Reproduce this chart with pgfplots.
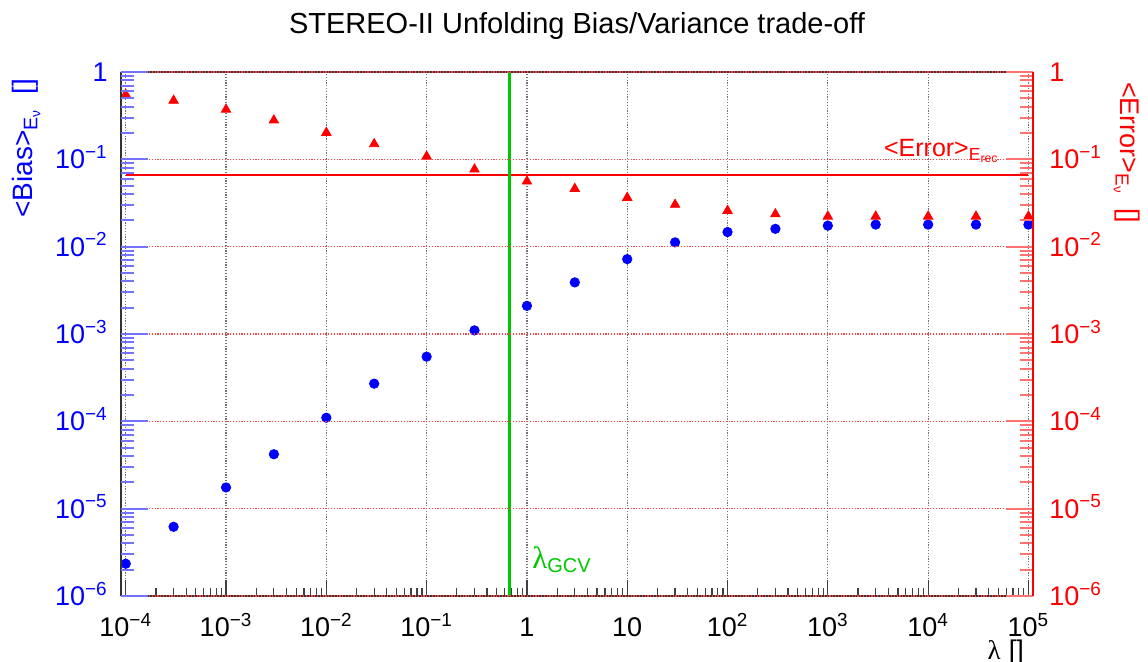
\documentclass[border=0pt]{standalone}
\usepackage{pgfplots}
\pgfplotsset{compat=1.18}
\usepackage{fontspec}
\setmainfont{Liberation Sans}
\newfontfamily\greek{Liberation Serif}
\definecolor{gcv}{RGB}{0,200,0}
\newcommand{\ee}[1]{10\textsuperscript{−#1}}
\newcommand{\ep}[1]{10\textsuperscript{#1}}

\pgfplotsset{
  rootframe/.style={
    at={(0pt,0pt)}, anchor=south west, scale only axis,
    width=456pt, height=262pt,
    xmin=8.97e-5, xmax=1.11e5, ymin=1e-6, ymax=1,
    tick align=inside,
    tick label style={font=\fontsize{13.5}{15}\selectfont},
    xtick={1e-4,1e-3,1e-2,1e-1,1,10,1e2,1e3,1e4,1e5},
    minor xtick={2e-4,3e-4,4e-4,5e-4,6e-4,7e-4,8e-4,9e-4,
                 2e-3,3e-3,4e-3,5e-3,6e-3,7e-3,8e-3,9e-3,
                 2e-2,3e-2,4e-2,5e-2,6e-2,7e-2,8e-2,9e-2,
                 2e-1,3e-1,4e-1,5e-1,6e-1,7e-1,8e-1,9e-1,
                 2,3,4,5,6,7,8,9,
                 20,30,40,50,60,70,80,90,
                 200,300,400,500,600,700,800,900,
                 2e3,3e3,4e3,5e3,6e3,7e3,8e3,9e3,
                 2e4,3e4,4e4,5e4,6e4,7e4,8e4,9e4},
    ytick={1e-6,1e-5,1e-4,1e-3,1e-2,1e-1,1},
    minor ytick={2e-6,3e-6,4e-6,5e-6,6e-6,7e-6,8e-6,9e-6,
                 2e-5,3e-5,4e-5,5e-5,6e-5,7e-5,8e-5,9e-5,
                 2e-4,3e-4,4e-4,5e-4,6e-4,7e-4,8e-4,9e-4,
                 2e-3,3e-3,4e-3,5e-3,6e-3,7e-3,8e-3,9e-3,
                 2e-2,3e-2,4e-2,5e-2,6e-2,7e-2,8e-2,9e-2,
                 2e-1,3e-1,4e-1,5e-1,6e-1,7e-1,8e-1,9e-1},
  },
}

\begin{document}
\begin{tikzpicture}
\path[use as bounding box] (-60.5pt,-33pt) rectangle (513.5pt,298pt);

% x axis, vertical grid and the data
\begin{loglogaxis}[rootframe,
  hide y axis,
  xtick pos=bottom,
  xticklabels={\ee4,\ee3,\ee2,\ee1,1,10,\ep2,\ep3,\ep4,\ep5},
  x tick style={black!75, line width=0.6pt},
  major tick length=8pt, minor tick length=4pt,
  xticklabel style={anchor=base, inner sep=0pt, yshift=-20.5pt},
  xmajorgrids,
  x grid style={black!55, line width=0.6pt, dash pattern=on 0.6pt off 0.8pt},
  axis line style={black!80, line width=0.7pt},
]
% <Bias>
\addplot[only marks, mark=*, mark size=2.35pt, color=blue] coordinates {
  (1e-4,2.34e-6) (3e-4,6.2e-6) (1e-3,1.75e-5) (3e-3,4.2e-5)
  (1e-2,1.1e-4) (3e-2,2.7e-4) (1e-1,5.5e-4) (3e-1,1.1e-3)
  (1,2.1e-3) (3,3.9e-3) (10,7.2e-3) (30,1.12e-2)
  (1e2,1.47e-2) (3e2,1.6e-2) (1e3,1.74e-2) (3e3,1.79e-2)
  (1e4,1.79e-2) (3e4,1.79e-2) (1e5,1.79e-2)};
% <Error>
\addplot[only marks, mark=triangle*, mark size=2.7pt, color=red] coordinates {
  (1e-4,0.552) (3e-4,0.471) (1e-3,0.372) (3e-3,0.280)
  (1e-2,0.202) (3e-2,0.150) (1e-1,0.108) (3e-1,0.0768)
  (1,0.0560) (3,0.0461) (10,0.0364) (30,0.0303)
  (1e2,0.0258) (3e2,0.0236) (1e3,0.0222) (3e3,0.0222)
  (1e4,0.0222) (3e4,0.0222) (1e5,0.0222)};
% mean error over E_rec
\addplot[red, line width=1pt] coordinates {(1e-4,0.066) (1e5,0.066)};
% lambda GCV
\addplot[gcv, line width=1.5pt] coordinates {(0.67,1e-6) (0.67,1)};
\node[anchor=base west, red, font=\fontsize{12.5}{14}\selectfont]
  at (rel axis cs:0.829,0.838) {<Error>\textsubscript{E\textsubscript{rec}}};
\node[anchor=base west, gcv, inner sep=0pt]
  at (axis cs:1.12,2.05e-6) {{\greek\fontsize{15.5}{17}\selectfont λ}\raisebox{-2pt}{\fontsize{10}{11}\selectfont GCV}};
\end{loglogaxis}
\draw[black!80, line width=0.7pt] (0pt,0pt) -- (0pt,262pt);

% left (blue) axis, horizontal grid
\begin{loglogaxis}[rootframe,
  hide x axis, axis line style={draw=none},
  ytick pos=left,
  yticklabels={\ee6,\ee5,\ee4,\ee3,\ee2,\ee1,1},
  y tick style={blue!55, line width=1pt},
  major tick length=13.5pt, minor tick length=6.5pt,
  yticklabel style={blue, anchor=base east, inner sep=0pt, xshift=-6.5pt, yshift=-4.8pt},
  ymajorgrids,
  y grid style={red!75, line width=0.6pt, dash pattern=on 0.6pt off 0.8pt},
]
\end{loglogaxis}

% right (red) axis
\begin{loglogaxis}[rootframe,
  hide x axis, axis line style={draw=none},
  ytick pos=right,
  yticklabels={\ee6,\ee5,\ee4,\ee3,\ee2,\ee1,1},
  y tick style={red!55, line width=1pt},
  major tick length=13.5pt, minor tick length=6.5pt,
  yticklabel style={red, anchor=base west, inner sep=0pt, xshift=8pt, yshift=-4.8pt},
]
\end{loglogaxis}
\draw[red, line width=0.9pt] (456pt,0pt) -- (456pt,262pt);

\node[anchor=base, font=\fontsize{14.5}{16}\selectfont] at (228pt,281pt)
  {STEREO-II Unfolding Bias/Variance trade-off};
\node[rotate=90, anchor=base east, blue, font=\fontsize{14}{16}\selectfont]
  at (-44pt,262pt) {<Bias>\textsubscript{E\textsubscript{ν}}\hspace{0.5em}[]};
\node[rotate=-90, anchor=base west, red, font=\fontsize{13.5}{15}\selectfont]
  at (499.5pt,260.5pt) {<Error>\textsubscript{E\textsubscript{ν}}\hspace{0.5em}[]};
\node[anchor=base east, font=\fontsize{13.5}{15}\selectfont]
  at (455pt,-32pt) {{\greek λ}\hspace{0.3em}[]};
\end{tikzpicture}
\end{document}
